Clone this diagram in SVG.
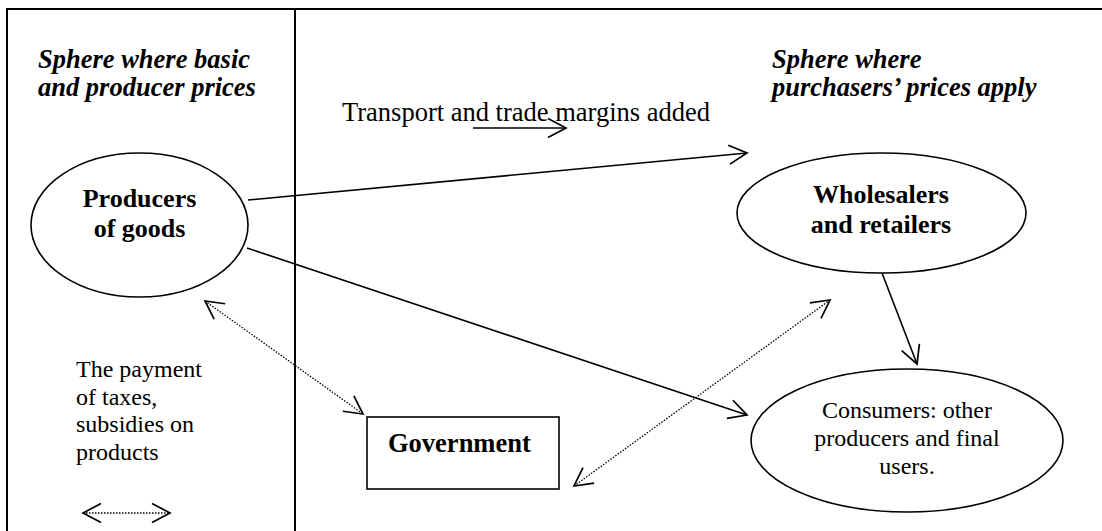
<svg xmlns="http://www.w3.org/2000/svg" width="1102" height="531" viewBox="0 0 1102 531">
<style>
.t{font-family:"Liberation Serif","Times New Roman",serif;fill:#000}
.hd{font-size:26.5px;font-weight:bold;font-style:italic}
.nb{font-size:26px;font-weight:bold;text-anchor:middle}
.rg{font-size:24px}
.shape{fill:#fff;stroke:#000;stroke-width:1.6}
.frame{stroke:#000;stroke-width:2;fill:none}
.ln{stroke:#000;stroke-width:1.6;fill:none}
.dot{stroke:#000;stroke-width:1.3;stroke-dasharray:1.5 1.5;fill:none}
</style>
<defs>
<marker id="arr" markerUnits="userSpaceOnUse" orient="auto-start-reverse" viewBox="-20 -12 22 24" markerWidth="22" markerHeight="24" refX="0" refY="0">
<path d="M-18,-9.5 L0,0 L-18,9.5" fill="none" stroke="#000" stroke-width="1.7"/>
</marker>
</defs>
<rect width="1102" height="531" fill="#fff"/>
<g id="frame">
<path class="frame" d="M7,531 V9 H1102"/>
<path class="frame" d="M295,9 V531"/>
</g>
<g id="labels">
<text class="t hd" x="38" y="68">Sphere where basic</text>
<text class="t hd" x="38" y="96">and producer prices</text>
<text class="t hd" x="772" y="68">Sphere where</text>
<text class="t hd" x="772" y="96">purchasers’ prices apply</text>
<text class="t" x="342" y="121" font-size="26.5">Transport and trade margins added</text>
<text class="t rg" x="76" y="377">The payment</text>
<text class="t rg" x="76" y="405">of taxes,</text>
<text class="t rg" x="76" y="432">subsidies on</text>
<text class="t rg" x="76" y="460">products</text>
</g>
<g id="producers">
<ellipse class="shape" cx="139.5" cy="225" rx="108.5" ry="72"/>
<text class="t nb" x="139.5" y="207">Producers</text>
<text class="t nb" x="139.5" y="237">of goods</text>
</g>
<g id="wholesalers">
<ellipse class="shape" cx="881.5" cy="213" rx="144.5" ry="60"/>
<text class="t nb" x="881" y="203">Wholesalers</text>
<text class="t nb" x="881" y="233">and retailers</text>
</g>
<g id="consumers">
<ellipse class="shape" cx="907" cy="440.5" rx="156" ry="71.5"/>
<text class="t rg" text-anchor="middle" x="907" y="418">Consumers: other</text>
<text class="t rg" text-anchor="middle" x="907" y="446">producers and final</text>
<text class="t rg" text-anchor="middle" x="907" y="474">users.</text>
</g>
<g id="government">
<rect class="shape" x="367" y="417" width="192" height="72"/>
<text class="t" x="388" y="452" font-size="26.5" font-weight="bold">Government</text>
</g>
<g id="connectors">
<line class="ln" x1="473" y1="128" x2="566" y2="128" marker-end="url(#arr)"/>
<line class="ln" x1="248" y1="200" x2="747" y2="153" marker-end="url(#arr)"/>
<line class="ln" x1="247" y1="248" x2="747" y2="415" marker-end="url(#arr)"/>
<line class="ln" x1="882" y1="273" x2="917" y2="364" marker-end="url(#arr)"/>
<line class="dot" x1="205" y1="301" x2="363" y2="414" marker-start="url(#arr)" marker-end="url(#arr)"/>
<line class="dot" x1="574" y1="486" x2="830" y2="300" marker-start="url(#arr)" marker-end="url(#arr)"/>
<line class="dot" x1="83" y1="513" x2="170" y2="513" marker-start="url(#arr)" marker-end="url(#arr)"/>
</g>
</svg>
